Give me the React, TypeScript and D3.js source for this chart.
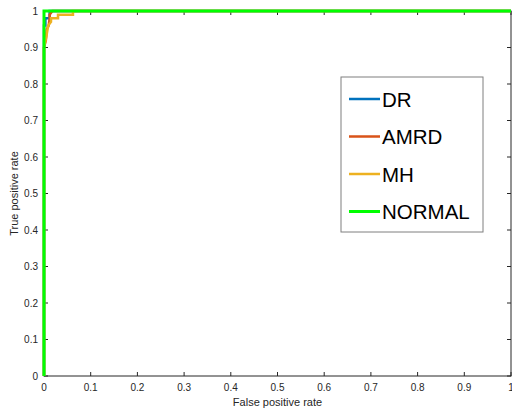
import React from 'react';
import * as d3 from 'd3';

const seriesNames = ['DR', 'AMRD', 'MH', 'NORMAL'];
const seriesColors = ['#0072BD', '#D95319', '#EDB120', '#00FF00'];

const drFpr = [0, 0, 0.003, 0.003, 0.012, 0.012, 1];
const drTpr = [0, 0.96, 0.96, 0.98, 0.98, 1, 1];
const amrdFpr = [0, 0, 0.004, 0.006, 0.01, 0.012, 0.012, 0.018, 1];
const amrdTpr = [0, 0.9, 0.92, 0.95, 0.96, 0.98, 0.99, 1, 1];
const mhFpr = [0, 0, 0.005, 0.009, 0.015, 0.015, 0.03, 0.03, 0.062, 0.062, 1];
const mhTpr = [0, 0.9, 0.93, 0.96, 0.97, 0.98, 0.98, 0.99, 0.99, 1, 1];
const normalFpr = [0, 0, 1];
const normalTpr = [0, 1, 1];

const tickValues = [0, 0.1, 0.2, 0.3, 0.4, 0.5, 0.6, 0.7, 0.8, 0.9, 1];

const App = () => {
  const width = 512, height = 412;
  const left = 44, top = 11, right = 511, bottom = 376;

  const x = d3.scaleLinear().domain([0, 1]).range([left, right]);
  const y = d3.scaleLinear().domain([0, 1]).range([bottom, top]);

  const series = [
    { fpr: drFpr, tpr: drTpr },
    { fpr: amrdFpr, tpr: amrdTpr },
    { fpr: mhFpr, tpr: mhTpr },
    { fpr: normalFpr, tpr: normalTpr },
  ];

  const line = d3.line<[number, number]>()
    .x(d => x(d[0]))
    .y(d => y(d[1]));

  const axisColor = '#262626';
  const font = 'Liberation Sans, Arial, sans-serif';

  return (
    <svg width={width} height={height} style={{ position: 'absolute', left: 0, top: 0, background: '#fff' }}>
      <rect x={0} y={0} width={width} height={height} fill="#fff" />
      {/* axes box, MATLAB style */}
      <rect x={left} y={top} width={right - left} height={bottom - top} fill="none" stroke={axisColor} strokeWidth={1} />
      {tickValues.map(v => (
        <g key={'x' + v}>
          <line x1={x(v)} x2={x(v)} y1={bottom} y2={bottom - 4} stroke={axisColor} />
          <line x1={x(v)} x2={x(v)} y1={top} y2={top + 4} stroke={axisColor} />
          <text x={x(v)} y={bottom + 15} textAnchor="middle" fontSize={10} fill={axisColor} fontFamily={font}>{String(v)}</text>
        </g>
      ))}
      {tickValues.map(v => (
        <g key={'y' + v}>
          <line x1={left} x2={left + 4} y1={y(v)} y2={y(v)} stroke={axisColor} />
          <line x1={right} x2={right - 4} y1={y(v)} y2={y(v)} stroke={axisColor} />
          <text x={left - 6} y={y(v) + 3.5} textAnchor="end" fontSize={10} fill={axisColor} fontFamily={font}>{String(v)}</text>
        </g>
      ))}
      <text x={(left + right) / 2} y={bottom + 30} textAnchor="middle" fontSize={11} fill={axisColor} fontFamily={font}>False positive rate</text>
      <text transform={`translate(${18},${(top + bottom) / 2}) rotate(-90)`} textAnchor="middle" fontSize={11} fill={axisColor} fontFamily={font}>True positive rate</text>

      {series.map((s, i) => (
        <path
          key={seriesNames[i]}
          d={line(s.fpr.map((f, j) => [f, s.tpr[j]] as [number, number])) || ''}
          fill="none"
          stroke={seriesColors[i]}
          strokeWidth={i === 3 ? 3 : 2.5}
        />
      ))}

      {/* legend */}
      <rect x={341} y={77} width={142} height={155} fill="#fff" stroke="#7f7f7f" strokeWidth={1} />
      {seriesNames.map((name, i) => (
        <g key={'lg' + name}>
          <line x1={349} x2={380} y1={99 + i * 37.5} y2={99 + i * 37.5} stroke={seriesColors[i]} strokeWidth={i === 3 ? 3 : 2.5} />
          <text x={382} y={99 + i * 37.5 + 7.5} fontSize={20.5} fill="#000" fontFamily={font}>{name}</text>
        </g>
      ))}
    </svg>
  );
};

export default App;
